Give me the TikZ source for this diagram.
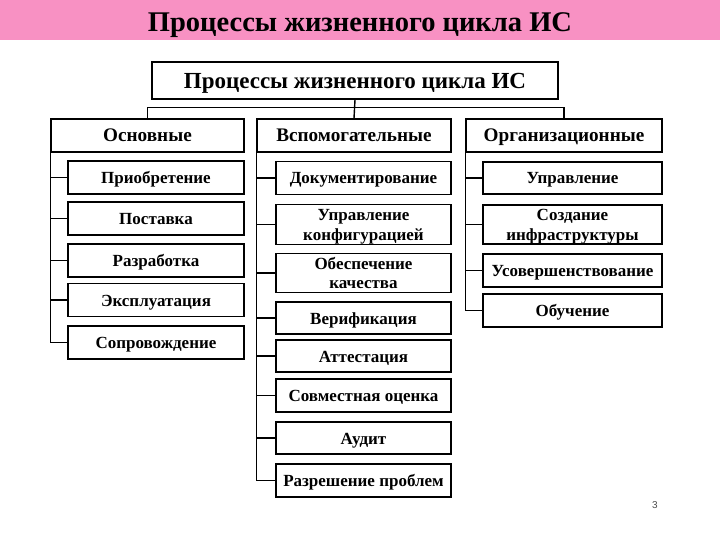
\documentclass[tikz,border=0pt]{standalone}
\usepackage{fontspec}
\setmainfont{Liberation Serif}
\setsansfont{Liberation Sans}
\definecolor{titlepink}{RGB}{248,145,195}
\newcommand{\chtext}[1]{\rule[-2pt]{0pt}{16pt}\smash{#1}}
\newcommand{\hdtext}[1]{\rule[-2pt]{0pt}{17pt}\smash{#1}}
\newcommand{\tptext}[1]{\rule[-2pt]{0pt}{21pt}\smash{#1}}
\newcommand{\tltext}[1]{\rule[-2pt]{0pt}{28pt}\smash{#1}}
\begin{document}
\begin{tikzpicture}[x=1pt,y=-1pt,
  every node/.style={inner sep=0pt, align=center},
  topbox/.style={draw, line width=1.5pt, font=\fontsize{23}{25}\selectfont\bfseries},
  headbox/.style={draw, line width=1.3pt, font=\fontsize{19.2}{21}\selectfont\bfseries},
  childbox/.style={draw, line width=1.8pt, font=\fontsize{17}{19.5}\selectfont\bfseries},
  conn/.style={line width=1.4pt}]
\useasboundingbox (0,0) rectangle (720,540);
\fill[white] (0,0) rectangle (720,540);
\fill[titlepink] (0,0) rectangle (720,40);
\node[font=\fontsize{28.5}{30}\selectfont\bfseries] (title) at (360,20) {\tltext{Процессы жизненного цикла ИС}};

\node[topbox, minimum width=406pt, minimum height=37pt] (top) at (355,80.5) {\tptext{Процессы жизненного цикла ИС}};

\node[headbox, minimum width=193pt, minimum height=33pt] (hl) at (147.5,135.5) {\hdtext{Основные}};
\node[headbox, minimum width=194pt, minimum height=33pt] (hm) at (354,135.5) {\hdtext{Вспомогательные}};
\node[headbox, minimum width=196pt, minimum height=33pt] (hr) at (564,135.5) {\hdtext{Организационные}};

% left column
\node[childbox, minimum width=176pt, minimum height=33pt] (l1) at (156,177.5) {\chtext{Приобретение}};
\node[childbox, minimum width=176pt, minimum height=33pt] (l2) at (156,218.5) {\chtext{Поставка}};
\node[childbox, minimum width=176pt, minimum height=33pt] (l3) at (156,260.5) {\chtext{Разработка}};
\node[childbox, minimum width=176pt, minimum height=33pt] (l4) at (156,300) {\chtext{Эксплуатация}};
\node[childbox, minimum width=176pt, minimum height=33pt] (l5) at (156,342.5) {\chtext{Сопровождение}};

% middle column
\node[childbox, minimum width=175pt, minimum height=33pt] (m1) at (363.5,178) {\chtext{Документирование}};
\node[childbox, minimum width=175pt, minimum height=40pt] (m2) at (363.5,224.5) {\chtext{Управление}\\\chtext{конфигурацией}};
\node[childbox, minimum width=175pt, minimum height=39pt] (m3) at (363.5,273) {\chtext{Обеспечение}\\\chtext{качества}};
\node[childbox, minimum width=175pt, minimum height=32pt] (m4) at (363.5,318) {\chtext{Верификация}};
\node[childbox, minimum width=175pt, minimum height=32pt] (m5) at (363.5,356) {\chtext{Аттестация}};
\node[childbox, minimum width=175pt, minimum height=33pt] (m6) at (363.5,395.5) {\chtext{Совместная оценка}};
\node[childbox, minimum width=175pt, minimum height=32pt] (m7) at (363.5,438) {\chtext{Аудит}};
\node[childbox, minimum width=175pt, minimum height=33pt] (m8) at (363.5,480.5) {\chtext{Разрешение проблем}};

% right column
\node[childbox, minimum width=179pt, minimum height=32pt] (r1) at (572.5,178) {\chtext{Управление}};
\node[childbox, minimum width=179pt, minimum height=39pt] (r2) at (572.5,224.5) {\chtext{Создание}\\\chtext{инфраструктуры}};
\node[childbox, minimum width=179pt, minimum height=33pt] (r3) at (572.5,270.5) {\chtext{Усовершенствование}};
\node[childbox, minimum width=179pt, minimum height=33pt] (r4) at (572.5,310.5) {\chtext{Обучение}};

% top connectors
\draw[conn] (top.south) -- (hm.north);
\draw[conn] (hl.north) -- ++(0,-11) -| (hr.north);

% column spines
\draw[conn] (hl.south west) |- (l5.west);
\foreach \n in {l1,l2,l3,l4} \draw[conn] (\n.west) -- (\n.west -| hl.west);
\draw[conn] (hm.south west) |- (m8.west);
\foreach \n in {m1,m2,m3,m4,m5,m6,m7} \draw[conn] (\n.west) -- (\n.west -| hm.west);
\draw[conn] (hr.south west) |- (r4.west);
\foreach \n in {r1,r2,r3} \draw[conn] (\n.west) -- (\n.west -| hr.west);

\node[font=\sffamily\fontsize{10}{12}\selectfont, text=black!70] (pg) at (655,505) {3};
\end{tikzpicture}
\end{document}
